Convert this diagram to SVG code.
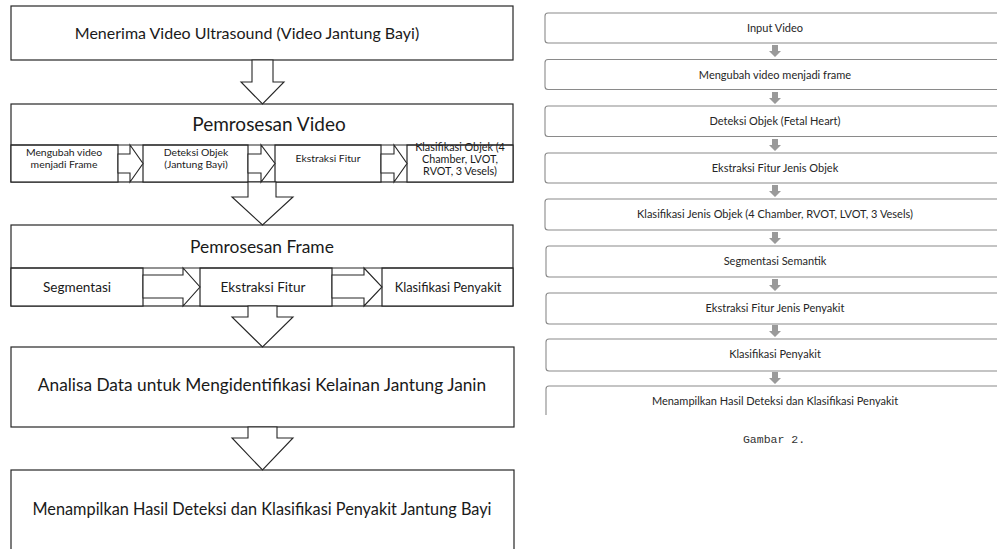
<svg xmlns="http://www.w3.org/2000/svg" width="997" height="549" viewBox="0 0 997 549">
<style>
.b{fill:#fff;stroke:#262626;stroke-width:1.2}
.a{fill:#fff;stroke:#262626;stroke-width:1.1}
.t{font-family:Lato,"Liberation Sans",sans-serif;fill:#1a1a1a;text-anchor:middle}
.mid{font-size:13.6px}
.sm{font-size:10.4px}
.r{fill:#fff;stroke:#8a8a8a;stroke-width:1.1}
.rt{font-family:Lato,"Liberation Sans",sans-serif;fill:#262626;text-anchor:middle;font-size:11px}
.ga{fill:#9a9a9a}
</style>
<rect width="997" height="549" fill="#fff"/>

<g id="n1"><rect class="b" x="11" y="6" width="502" height="54"/>
<text class="t" font-size="16" x="247" y="39">Menerima Video Ultrasound (Video Jantung Bayi)</text></g>

<g id="n2"><rect class="b" x="11" y="104" width="502" height="78"/>
<text class="t" font-size="19" x="269" y="131">Pemrosesan Video</text></g>
<g id="n2a"><rect class="b" x="11" y="145" width="107" height="37"/>
<text class="t sm" x="64" y="156">Mengubah video</text><text class="t sm" x="64" y="168">menjadi Frame</text></g>
<g id="n2b"><rect class="b" x="143" y="145" width="105" height="37"/>
<text class="t sm" x="196" y="156">Deteksi Objek</text><text class="t sm" x="196" y="168">(Jantung Bayi)</text></g>
<g id="n2c"><rect class="b" x="275" y="145" width="106" height="37"/>
<text class="t sm" x="328" y="162">Ekstraksi Fitur</text></g>
<g id="n2d"><rect class="b" x="407" y="145" width="106" height="37"/>
<text class="t" font-size="10.8" x="460" y="151">Klasifikasi Objek (4</text><text class="t" font-size="10.8" x="460" y="163">Chamber, LVOT,</text><text class="t" font-size="10.8" x="460" y="175">RVOT, 3 Vesels)</text></g>

<g id="n3"><rect class="b" x="11" y="225" width="502" height="81"/>
<text class="t" font-size="17.4" x="262" y="253">Pemrosesan Frame</text></g>
<g id="n3a"><rect class="b" x="11" y="268" width="132" height="38"/>
<text class="t mid" x="77" y="292">Segmentasi</text></g>
<g id="n3b"><rect class="b" x="200" y="268" width="132" height="38"/>
<text class="t mid" x="263" y="292">Ekstraksi Fitur</text></g>
<g id="n3c"><rect class="b" x="382" y="268" width="131" height="38"/>
<text class="t" font-size="12.8" x="448" y="292">Klasifikasi Penyakit</text></g>

<g id="n4"><rect class="b" x="11" y="347" width="503" height="80"/>
<text class="t" font-size="17.3" x="262" y="391">Analisa Data untuk Mengidentifikasi Kelainan Jantung Janin</text></g>

<g id="n5"><rect class="b" x="11" y="470" width="503" height="90"/>
<text class="t" font-size="16.3" x="262" y="515">Menampilkan Hasil Deteksi dan Klasifikasi Penyakit Jantung Bayi</text></g>

<g id="r1"><rect class="r" x="545" y="13" width="470" height="30" rx="3"/><text class="rt" x="775" y="32">Input Video</text></g>
<g id="r2"><rect class="r" x="545" y="59.5" width="470" height="30" rx="3"/><text class="rt" x="775" y="78.5">Mengubah video menjadi frame</text></g>
<g id="r3"><rect class="r" x="545" y="106" width="470" height="30.5" rx="3"/><text class="rt" x="775" y="125">Deteksi Objek (Fetal Heart)</text></g>
<g id="r4"><rect class="r" x="545" y="153" width="470" height="30" rx="3"/><text class="rt" x="775" y="172">Ekstraksi Fitur Jenis Objek</text></g>
<g id="r5"><rect class="r" x="545" y="199" width="470" height="31" rx="3"/><text class="rt" x="775" y="218">Klasifikasi Jenis Objek (4 Chamber, RVOT, LVOT, 3 Vesels)</text></g>
<g id="r6"><rect class="r" x="546" y="246" width="470" height="31" rx="3"/><text class="rt" x="775" y="265">Segmentasi Semantik</text></g>
<g id="r7"><rect class="r" x="546" y="293" width="470" height="31" rx="3"/><text class="rt" x="775" y="312">Ekstraksi Fitur Jenis Penyakit</text></g>
<g id="r8"><rect class="r" x="546" y="339" width="470" height="32" rx="3"/><text class="rt" x="775" y="358">Klasifikasi Penyakit</text></g>
<g id="r9"><path class="r" fill="none" d="M546,415 V389 Q546,386 549,386 H1016"/><text class="rt" x="775" y="405">Menampilkan Hasil Deteksi dan Klasifikasi Penyakit</text></g>

<text x="774" y="443" font-family="'Liberation Mono',monospace" font-size="11.5" fill="#333" text-anchor="middle">Gambar 2.</text>

<g id="connectors">
<line x1="11" y1="145" x2="513" y2="145" stroke="#262626" stroke-width="1.2"/>
<line x1="11" y1="268" x2="513" y2="268" stroke="#262626" stroke-width="1.2"/>
<polygon class="a" points="252,60 273,60 273,82 284,82 262.5,104 241,82 252,82"/>
<polygon class="a" points="248,182 276,182 276,197 293,197 262.5,225 232,197 248,197"/>
<polygon class="a" points="248,306 277,306 277,317 293,317 262.5,347 232,317 248,317"/>
<polygon class="a" points="248,427 277,427 277,438 293,438 262.5,470 232,438 248,438"/>
<polygon class="a" points="118,154 130,154 130,145 143,163.5 130,182 130,173 118,173"/>
<polygon class="a" points="248,154 261,154 261,145 275,163.5 261,182 261,173 248,173"/>
<polygon class="a" points="381,154 394,154 394,145 407,163.5 394,182 394,173 381,173"/>
<polygon class="a" points="143,275 183,275 183,268 200,287 183,306 183,298 143,298"/>
<polygon class="a" points="332,275 364,275 364,268 382,287 364,306 364,298 332,298"/>
<g class="ga">
<polygon points="772,45 778,45 778,51 781,51 775,57 769,51 772,51"/>
<polygon points="772,92 778,92 778,98 781,98 775,104 769,98 772,98"/>
<polygon points="772,139 778,139 778,145 781,145 775,151 769,145 772,145"/>
<polygon points="772,185 778,185 778,191 781,191 775,197 769,191 772,191"/>
<polygon points="772,232 778,232 778,238 781,238 775,244 769,238 772,238"/>
<polygon points="772,279 778,279 778,285 781,285 775,291 769,285 772,285"/>
<polygon points="772,325 778,325 778,331 781,331 775,337 769,331 772,331"/>
<polygon points="772,372 778,372 778,378 781,378 775,384 769,378 772,378"/>
</g>
</g>
</svg>
